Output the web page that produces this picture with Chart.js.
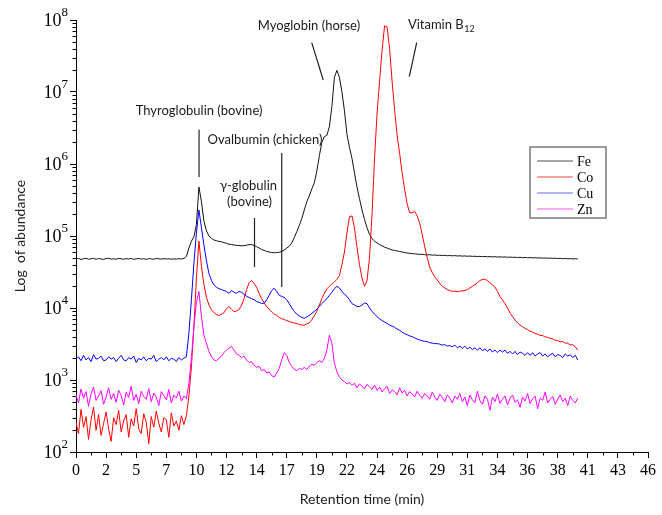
<!DOCTYPE html>
<html>
<head>
<meta charset="utf-8">
<title>Metal SEC-ICP-MS chromatogram</title>
<script src="https://cdn.jsdelivr.net/npm/chart.js@4.4.1/dist/chart.umd.min.js"></script>
<style>
  html, body { margin:0; padding:0; background:#fff; }
  #wrap { width:662px; height:515px; }
</style>
</head>
<body>
<div id="wrap"><canvas id="chart" width="662" height="515"></canvas></div>
<script>
// retention time (min), one reading every 0.2 min
var TIMES = [
  0,0.2,0.4,0.6,0.8,1,1.2,1.4,1.6,1.8,
  2,2.2,2.4,2.6,2.8,3,3.2,3.4,3.6,3.8,
  4,4.2,4.4,4.6,4.8,5,5.2,5.4,5.6,5.8,
  6,6.2,6.4,6.6,6.8,7,7.2,7.4,7.6,7.8,
  8,8.2,8.4,8.6,8.8,9,9.2,9.4,9.6,9.8,
  10,10.2,10.4,10.6,10.8,11,11.2,11.4,11.6,11.8,
  12,12.2,12.4,12.6,12.8,13,13.2,13.4,13.6,13.8,
  14,14.2,14.4,14.6,14.8,15,15.2,15.4,15.6,15.8,
  16,16.2,16.4,16.6,16.8,17,17.2,17.4,17.6,17.8,
  18,18.2,18.4,18.6,18.8,19,19.2,19.4,19.6,19.8,
  20,20.2,20.4,20.6,20.8,21,21.2,21.4,21.6,21.8,
  22,22.2,22.4,22.6,22.8,23,23.2,23.4,23.6,23.8,
  24,24.2,24.4,24.6,24.8,25,25.2,25.4,25.6,25.8,
  26,26.2,26.4,26.6,26.8,27,27.2,27.4,27.6,27.8,
  28,28.2,28.4,28.6,28.8,29,29.2,29.4,29.6,29.8,
  30,30.2,30.4,30.6,30.8,31,31.2,31.4,31.6,31.8,
  32,32.2,32.4,32.6,32.8,33,33.2,33.4,33.6,33.8,
  34,34.2,34.4,34.6,34.8,35,35.2,35.4,35.6,35.8,
  36,36.2,36.4,36.6,36.8,37,37.2,37.4,37.6,37.8,
  38,38.2,38.4,38.6,38.8,39,39.2,39.4,39.6,39.8,
  40
];

// abundance per element (counts), same grid as TIMES
var FE = [
  47800,48900,47200,48400,49100,47600,48200,48800,47400,48600,
  48000,47300,48700,49000,47700,48300,47500,48900,48100,47600,
  48500,47900,48800,47400,48200,48700,47800,48400,47300,48600,
  48000,47500,48900,48200,47700,48500,47900,48300,47600,48100,
  47800,48400,48000,48600,52000,68000,85000,97000,145000,480000,
  300000,160000,118000,100000,93000,88000,86000,84000,83000,81000,
  79000,77000,76000,75000,74000,74000,73000,73500,74500,76000,
  76000,74000,71000,68000,65000,63000,61000,60000,59000,58500,
  59000,59500,61000,64000,68000,72000,80000,95000,115000,140000,
  175000,230000,300000,360000,450000,550000,800000,1300000,2000000,2400000,
  2500000,3300000,6300000,16000000,20000000,16000000,10000000,5500000,2600000,1700000,
  1200000,750000,480000,330000,230000,170000,130000,105000,92000,85000,
  80000,76000,73000,70000,68000,66000,64000,63000,62000,61000,
  60000,59000,58000,57500,57000,56500,56000,55500,55800,55000,
  54600,55000,54200,54500,53800,54100,53500,53900,53200,53600,
  53000,53400,52700,53100,52500,52900,52300,52700,52100,52400,
  51800,52200,51600,52000,51400,51800,51200,51600,51000,51400,
  50800,51200,50600,51000,50400,50800,50200,50600,50000,50400,
  49800,50200,49600,50000,49400,49800,49200,49600,49000,49400,
  48800,49200,48600,49000,48400,48800,48200,48600,48000,48400,
  47900
];
var CO = [
  260,180,390,220,310,150,280,420,200,330,
  170,250,360,210,140,300,240,380,190,270,
  330,160,290,230,400,210,180,340,260,130,
  310,220,370,250,190,300,280,160,350,230,
  270,200,320,240,320,600,1500,5500,26000,85000,
  38000,21000,14000,11000,9400,8600,8100,7900,8200,8600,
  9800,10500,9600,8900,9100,9500,11000,13500,18000,22500,
  24000,22000,19500,16000,13500,11800,10500,9600,8800,8200,
  7900,7400,7100,6900,6700,6500,6300,6200,6100,5900,
  5800,5800,6000,6200,6900,7800,9000,11000,13500,16000,
  18500,20000,21500,23000,25000,28000,40000,60000,110000,185000,
  190000,130000,70000,40000,26000,20000,24000,50000,200000,1200000,
  5000000,14000000,38000000,83000000,80000000,40000000,14000000,5600000,2500000,1400000,
  750000,440000,280000,210000,210000,220000,190000,150000,105000,71000,
  50000,37000,31000,27000,24500,22000,20000,19000,18000,17500,
  17000,17200,16800,17100,17300,17500,18000,19000,20000,21000,
  22500,24000,25000,25000,24000,22500,21000,19500,17000,14500,
  13000,11500,10000,8500,7600,6800,6200,5800,5500,5200,
  5000,4750,4650,4400,4350,4150,4150,3950,3920,3780,
  3720,3560,3530,3400,3420,3260,3230,3080,3090,2900,
  2600
];
var CU = [
  1950,2100,1850,2200,1900,2050,1800,2250,1950,2000,
  2150,1850,1900,2100,1950,2050,1800,2000,2200,1900,
  1850,2050,1950,2150,1750,2000,1900,2100,1850,2000,
  1950,2200,1800,1950,2050,1900,2100,1850,2000,1950,
  1800,2050,1900,2000,2100,4500,13000,42000,110000,230000,
  130000,75000,45000,30000,24000,21000,19500,18500,18000,17500,
  17000,16000,17500,16500,16000,17000,16500,15500,14500,14000,
  13500,13000,12300,12000,11500,11700,13000,15000,17500,18800,
  17000,15000,14500,14000,13000,11500,10000,9000,8200,7800,
  7400,7200,7500,7900,8400,9000,9600,10500,11500,12500,
  13500,15000,16500,18500,20000,19000,17000,15500,14500,13000,
  11500,11000,10500,10500,11000,11700,11500,10000,9000,8200,
  7600,7100,6700,6400,6100,5800,5600,5400,5100,4900,
  4600,4400,4250,4100,4000,3850,3700,3600,3500,3450,
  3400,3300,3250,3200,3200,3150,3050,3100,2950,3000,
  2900,3050,2800,2950,2750,2950,2700,2850,2650,2800,
  2600,2800,2550,2700,2500,2700,2450,2600,2400,2600,
  2450,2600,2350,2500,2300,2500,2250,2450,2350,2200,
  2400,2200,2400,2150,2300,2400,2150,2300,2100,2250,
  2350,2100,2250,2200,2050,2300,2150,2250,2050,2200,
  1900
];
var ZN = [
  620,480,750,560,690,430,640,800,520,600,
  710,460,580,780,540,650,490,720,610,450,
  680,570,820,520,630,470,700,590,540,760,
  500,660,580,440,690,610,530,740,480,620,
  560,700,510,600,550,900,2000,5500,12000,17000,
  7500,4200,3200,2500,2100,1900,1850,2000,2150,2400,
  2600,2800,2900,2600,2300,2200,2050,2150,1900,1750,
  1800,1600,1500,1550,1350,1400,1250,1300,1150,1100,
  1250,1450,1900,2400,2200,1750,1550,1400,1350,1450,
  1400,1500,1400,1550,1650,1600,1750,1850,1750,2000,
  2600,4200,3200,1700,1300,1100,1000,950,880,920,
  850,900,780,880,820,760,870,800,740,850,
  720,800,680,760,820,650,730,690,620,780,
  660,720,600,690,640,580,700,610,560,650,
  600,540,680,580,520,640,570,500,620,560,
  480,600,540,650,500,580,440,620,530,480,
  700,520,460,600,540,380,580,500,640,470,
  540,600,450,560,620,490,530,420,580,510,
  650,470,550,600,400,560,520,680,480,540,
  590,460,540,620,500,560,440,600,520,480,
  560
];
var SERIES_NAMES = ['Fe', 'Co', 'Cu', 'Zn'];

// axes: evenly spaced ticks whose printed labels are rounded minutes
var X_TICKS = [0,2.4,4.8,7.2,9.6,12,14.4,16.8,19.2,21.6,24,26.4,28.8,31.2,33.6,36,38.4,40.8,43.2,45.6];
var X_TICK_LABELS = ['0','2','5','7','10','12','14','17','19','22','24','26','29','31','34','36','38','41','43','46'];
var Y_TICKS = [1e2,1e3,1e4,1e5,1e6,1e7,1e8];
var Y_TICK_EXPONENTS = ['2','3','4','5','6','7','8'];

// peak labels, placed in data units (minutes, counts)
var NOTE_TEXT = ['Thyroglobulin (bovine)', 'Ovalbumin (chicken)', 'γ-globulin', '(bovine)', 'Myoglobin (horse)', 'Vitamin B'];
var NOTE_SUB  = ['', '', '', '', '', '12'];
var NOTE_AT   = [[9.81,5.4e6],[15.07,2.15e6],[13.75,4.95e5],[13.83,2.97e5],[18.57,8.3e7],[29.1,8.5e7]];
var MARKERS   = [
  [9.81,3.0e6, 9.81,6.6e5],
  [16.4,1.42e6, 16.4,1.96e4],
  [14.23,1.78e5, 14.23,3.7e4],
  [18.79,4.84e7, 19.71,1.47e7],
  [27.16,4.84e7, 26.57,1.63e7]
];

var LINE_COLORS   = ['#111111', '#ff0000', '#0000ff', '#ff00ff'];
var LEGEND_COLORS = ['#8a8a8a', '#ff8080', '#9a9aff', '#ff8cff'];
var SERIF = '"Liberation Serif", "Times New Roman", serif';
var SANS  = 'Lato, "Open Sans", sans-serif';

var decor = {
  id: 'decor',
  afterDraw: function(chart) {
    var ctx = chart.ctx, xs = chart.scales.x, ys = chart.scales.y, a = chart.chartArea;
    ctx.save();

    // minor ticks
    ctx.strokeStyle = '#000';
    ctx.lineWidth = 1;
    ctx.beginPath();
    for (var i = 0; i < X_TICKS.length - 1; i++) {
      var px = Math.round(xs.getPixelForValue((X_TICKS[i] + X_TICKS[i+1]) / 2)) + 0.5;
      ctx.moveTo(px, a.bottom); ctx.lineTo(px, a.bottom + 3.5);
    }
    for (var d = 0; d < Y_TICKS.length - 1; d++) {
      for (var m = 2; m < 10; m++) {
        var py = Math.round(ys.getPixelForValue(m * Y_TICKS[d])) + 0.5;
        ctx.moveTo(a.left, py); ctx.lineTo(a.left - 3.5, py);
      }
    }
    ctx.stroke();

    // y tick labels: 10 with raised exponent
    ctx.fillStyle = '#000';
    ctx.textBaseline = 'middle';
    Y_TICKS.forEach(function(v, k) {
      var py = ys.getPixelForValue(v);
      ctx.font = '13px ' + SERIF;
      var ew = ctx.measureText(Y_TICK_EXPONENTS[k]).width;
      ctx.textAlign = 'left';
      ctx.fillText(Y_TICK_EXPONENTS[k], a.left - 8 - ew, py - 7);
      ctx.font = '18px ' + SERIF;
      ctx.textAlign = 'right';
      ctx.fillText('10', a.left - 8 - ew, py + 1);
    });

    // peak labels and their marker lines
    ctx.strokeStyle = '#222';
    ctx.lineWidth = 1.2;
    MARKERS.forEach(function(s) {
      ctx.beginPath();
      ctx.moveTo(xs.getPixelForValue(s[0]), ys.getPixelForValue(s[1]));
      ctx.lineTo(xs.getPixelForValue(s[2]), ys.getPixelForValue(s[3]));
      ctx.stroke();
    });
    ctx.fillStyle = '#1a1a1a';
    NOTE_TEXT.forEach(function(t, k) {
      var cx = xs.getPixelForValue(NOTE_AT[k][0]), cy = ys.getPixelForValue(NOTE_AT[k][1]);
      ctx.font = '13px ' + SANS;
      var w = ctx.measureText(t).width, sw = 0;
      if (NOTE_SUB[k]) { ctx.font = '9px ' + SANS; sw = ctx.measureText(NOTE_SUB[k]).width; }
      var x0 = cx - (w + sw) / 2;
      ctx.font = '13px ' + SANS;
      ctx.textAlign = 'left';
      ctx.fillText(t, x0, cy);
      if (NOTE_SUB[k]) { ctx.font = '9px ' + SANS; ctx.fillText(NOTE_SUB[k], x0 + w + 0.5, cy + 4); }
    });

    // legend box
    var lx = 530, ly = 147, lw = 76, lh = 71;
    ctx.strokeStyle = '#7a7a7a';
    ctx.lineWidth = 1.5;
    ctx.strokeRect(lx, ly, lw, lh);
    ctx.font = '14px ' + SERIF;
    ctx.textAlign = 'left';
    chart.data.datasets.forEach(function(ds, k) {
      var y = ly + 14 + k * 16;
      ctx.strokeStyle = LEGEND_COLORS[k];
      ctx.lineWidth = 1.5;
      ctx.beginPath(); ctx.moveTo(lx + 7, y); ctx.lineTo(lx + 43, y); ctx.stroke();
      ctx.fillStyle = '#000';
      ctx.fillText(ds.label, lx + 47, y + 1);
    });
    ctx.restore();
  }
};

function makeSet(i, values) {
  return {
    label: SERIES_NAMES[i],
    data: values,
    borderColor: LINE_COLORS[i],
    borderWidth: 1,
    pointRadius: 0,
    tension: 0,
    fill: false,
    order: 3 - i
  };
}

new Chart(document.getElementById('chart'), {
  type: 'line',
  data: {
    labels: TIMES,
    datasets: [makeSet(0, FE), makeSet(1, CO), makeSet(2, CU), makeSet(3, ZN)]
  },
  options: {
    responsive: false,
    animation: false,
    layout: { padding: { left: 0, right: 14, top: 20, bottom: 0 } },
    plugins: { legend: { display: false }, tooltip: { enabled: false } },
    scales: {
      x: {
        type: 'linear', min: 0, max: 45.6,
        afterBuildTicks: function(s) { s.ticks = X_TICKS.map(function(v){ return {value: v}; }); },
        afterFit: function(s) { s.height = 63; },
        ticks: {
          autoSkip: false, maxRotation: 0, padding: 3, color: '#000',
          font: { family: SERIF, size: 16 },
          callback: function(v, i) { return X_TICK_LABELS[i]; }
        },
        grid: { drawOnChartArea: false, tickLength: 6, color: '#000' },
        border: { color: '#000', width: 1 },
        title: { display: true, text: 'Retention time (min)', color: '#222',
                 font: { family: SANS, size: 14 }, padding: { top: 4, bottom: 7 } }
      },
      y: {
        type: 'logarithmic', min: 1e2, max: 1e8,
        afterBuildTicks: function(s) { s.ticks = Y_TICKS.map(function(v){ return {value: v}; }); },
        afterFit: function(s) { s.width = 76; },
        ticks: { callback: function() { return ''; } },
        grid: { drawOnChartArea: false, tickLength: 6, color: '#000' },
        border: { color: '#000', width: 1 },
        title: { display: true, text: 'Log  of abundance', color: '#222',
                 font: { family: SANS, size: 14 }, padding: { top: 12, bottom: 0 } }
      }
    }
  },
  plugins: [decor]
});
</script>
</body>
</html>
